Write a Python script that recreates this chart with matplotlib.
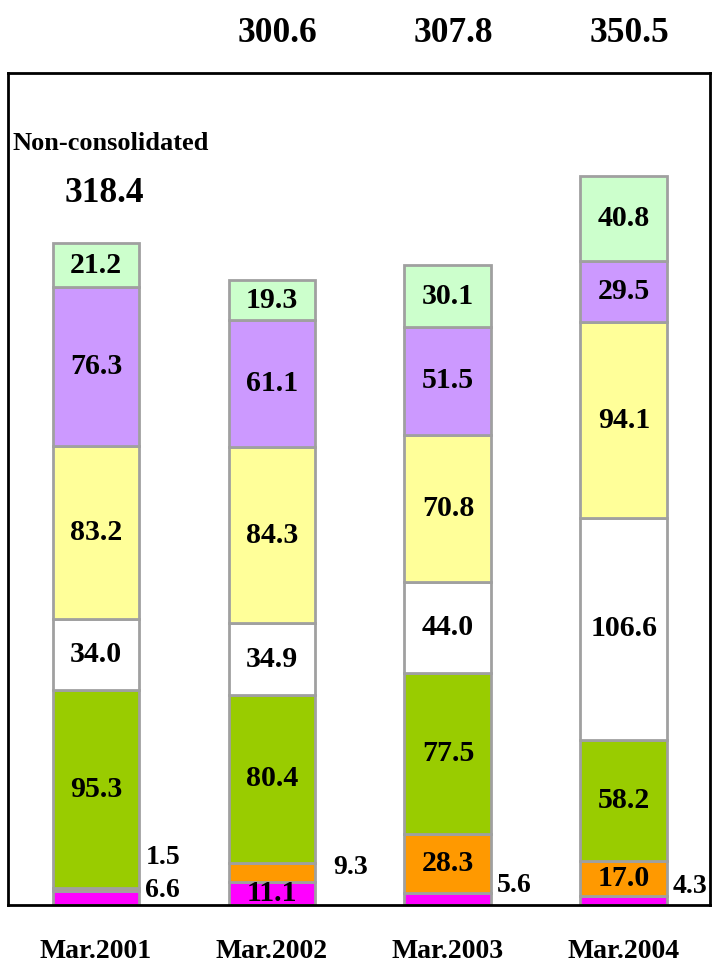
import matplotlib
matplotlib.use("Agg")
import matplotlib.pyplot as plt
import numpy as np

plt.rcParams['font.family'] = ['Liberation Serif', 'DejaVu Serif']
plt.rcParams['font.weight'] = 'bold'

# Fiscal periods
periods = ["Mar.2001", "Mar.2002", "Mar.2003", "Mar.2004"]

# Stacked components, bottom to top
magenta_vals = [6.6, 11.1, 5.6, 4.3]
orange_vals = [1.5, 9.3, 28.3, 17.0]
green_vals = [95.3, 80.4, 77.5, 58.2]
white_vals = [34.0, 34.9, 44.0, 106.6]
yellow_vals = [83.2, 84.3, 70.8, 94.1]
purple_vals = [76.3, 61.1, 51.5, 29.5]
lightgreen_vals = [21.2, 19.3, 30.1, 40.8]

# Totals shown above the bars
totals = [318.4, 300.6, 307.8, 350.5]

series = [magenta_vals, orange_vals, green_vals, white_vals,
          yellow_vals, purple_vals, lightgreen_vals]
colors = ["#FF00FF", "#FF9900", "#99CC00", "#FFFFFF",
          "#FFFF99", "#CC99FF", "#CCFFCC"]

# Segments whose value label sits beside the bar: (bar, series) -> (dx, y, ha)
outside = {
    (0, 1): (0.28, 22.6, 'left'),
    (0, 0): (0.28, 7.2, 'left'),
    (1, 1): (0.445, 17.8, 'center'),
    (2, 0): (0.375, 9.6, 'center'),
    (3, 0): (0.375, 8.7, 'center'),
}

fig = plt.figure(figsize=(7.13, 9.63), dpi=100)
ax = fig.add_axes([8 / 713, 58 / 963, 702 / 713, 832 / 963])

x = np.arange(len(periods))
width = 0.494
bottom = np.zeros(len(periods))
for si, (vals, col) in enumerate(zip(series, colors)):
    vals = np.array(vals)
    ax.bar(x, vals, width, bottom=bottom, color=col,
           edgecolor="#A0A0A0", linewidth=2, zorder=2)
    for bi in range(len(periods)):
        if (bi, si) in outside:
            dx, yy, ha = outside[(bi, si)]
            ax.text(x[bi] + dx, yy, f"{vals[bi]:.1f}", ha=ha, va='center',
                    fontsize=20, fontweight='bold', zorder=4, clip_on=False)
        else:
            ax.text(x[bi], bottom[bi] + vals[bi] / 2, f"{vals[bi]:.1f}",
                    ha='center', va='center', fontsize=21.5,
                    fontweight='bold', zorder=4)
    bottom += vals

# Total labels
ax.text(x[0] + 0.05, 342.3, f"{totals[0]:.1f}", ha='center', va='center',
        fontsize=25.5, fontweight='bold')
for bi in range(1, len(periods)):
    ax.text(x[bi] + 0.03, 419.2, f"{totals[bi]:.1f}", ha='center',
            va='center', fontsize=25.5, fontweight='bold', clip_on=False)

ax.text(-0.472, 366.3, "Non-consolidated", ha='left', va='center',
        fontsize=19, fontweight='bold')

ax.set_xlim(-0.5, 3.489)
ax.set_ylim(0, 400)
ax.set_yticks([])
ax.set_xticks(x)
ax.set_xticklabels(periods, fontsize=20, fontweight='bold')
ax.tick_params(axis='x', length=0, pad=24.5)
for sp in ax.spines.values():
    sp.set_color('black')
    sp.set_linewidth(2)
    sp.set_zorder(3)

fig.savefig("out.png", dpi=100, facecolor='white')
